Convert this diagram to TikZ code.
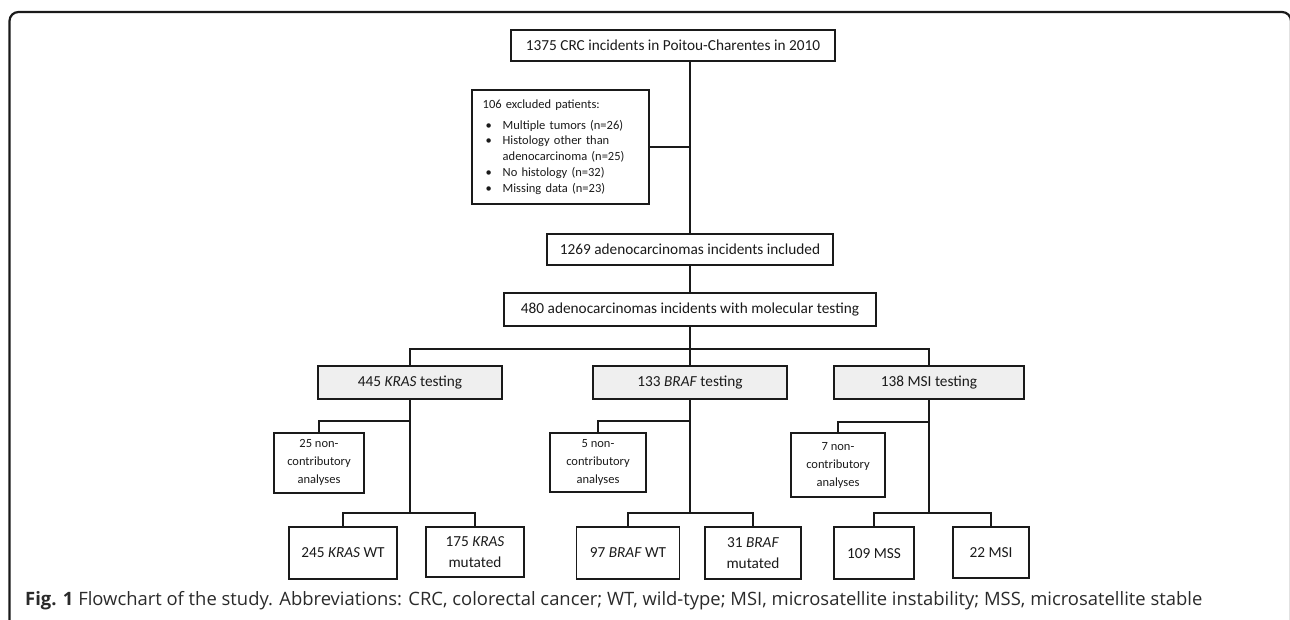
\documentclass[tikz,border=0pt]{standalone}
\usepackage{fontspec}
\setmainfont{Carlito}
\newfontfamily\capfont{Open Sans}
\usepackage{graphicx}
\definecolor{boxgray}{HTML}{EFEFEF}
\definecolor{ink}{HTML}{1A1A1A}
\definecolor{capink}{HTML}{2A2A2A}
\tikzset{
  box/.style={draw=ink, text=ink, line width=1.8pt, inner sep=0pt, align=center,
    font=\fontsize{15.3}{21.7}\selectfont},
  lvlbox/.style={box, fill=boxgray},
  ncbox/.style={box, font=\fontsize{12.5}{18}\selectfont},
  link/.style={draw=ink, line width=1.6pt},
  frameline/.style={draw=ink, line width=2.2pt, rounded corners=9pt},
}
\begin{document}
\begin{tikzpicture}[x=1pt,y=-1pt]
\useasboundingbox (0,0) rectangle (1290,620);
% outer frame
\draw[frameline] (9.5,640) -- (9.5,12) -- (1291,12) -- (1291,640);

% main column
\node[box, minimum width=324, minimum height=31] (top) at (673,45.5)
  {1375 CRC incidents in Poitou-Charentes in 2010};
\node[box, text width=155.6, inner xsep=10.7, minimum height=114, align=left,
  font=\fontsize{12.5}{15.7}\selectfont] (excl) at (560.5,147)
  {106 excluded patients:\\[5pt]
   \hspace*{3pt}\makebox[17pt][l]{\textbullet}Multiple tumors (n=26)\\
   \hspace*{3pt}\makebox[17pt][l]{\textbullet}Histology other than\\
   \hspace*{20pt}adenocarcinoma (n=25)\\
   \hspace*{3pt}\makebox[17pt][l]{\textbullet}No histology (n=32)\\
   \hspace*{3pt}\makebox[17pt][l]{\textbullet}Missing data (n=23)};
\node[box, minimum width=286.6, minimum height=31] (inc) at (690,249.5)
  {1269 adenocarcinomas incidents included};
\node[box, minimum width=372, minimum height=33] (mol) at (690,309.5)
  {480 adenocarcinomas incidents with molecular testing};

% level 2
\node[lvlbox, minimum width=183.4, minimum height=32.7] (kras) at (410,382.3)
  {445 \textit{KRAS} testing};
\node[lvlbox, minimum width=193.3, minimum height=32.7] (braf) at (690,382.3)
  {133 \textit{BRAF} testing};
\node[lvlbox, minimum width=189.3, minimum height=32.7] (msi) at (929,382.3)
  {138 MSI testing};

% non-contributory
\node[ncbox, minimum width=90, minimum height=60] (nck) at (319,462.7)
  {25 non-\\contributory\\analyses};
\node[ncbox, minimum width=96.7, minimum height=59.6] (ncb) at (598,462.5)
  {5 non-\\contributory\\analyses};
\node[ncbox, minimum width=94.6, minimum height=64] (ncm) at (838,465.3)
  {7 non-\\contributory\\analyses};

% results
\node[box, minimum width=108.6, minimum height=51.4] (kwt) at (343,553)
  {245 \textit{KRAS} WT};
\node[box, minimum width=97.7, minimum height=49.7] (kmu) at (475,552.2)
  {175 \textit{KRAS}\\mutated};
\node[box, minimum width=103, minimum height=51.4] (bwt) at (628,553)
  {97 \textit{BRAF} WT};
\node[box, minimum width=96, minimum height=51.4] (bmu) at (753,553)
  {31 \textit{BRAF}\\mutated};
\node[box, minimum width=80, minimum height=52] (mss) at (874,553.3)
  {109 MSS};
\node[box, minimum width=75.7, minimum height=51] (msip) at (991,552.8)
  {22 MSI};

% caption
\node[anchor=base west, inner sep=0pt, text=capink] (cap) at (25,605.5)
  {\resizebox{1177pt}{!}{\capfont\fontsize{13}{15}\selectfont\textbf{Fig. 1} Flowchart of the study. Abbreviations: CRC, colorectal cancer; WT, wild-type; MSI, microsatellite instability; MSS, microsatellite stable}};

% junction coordinates
\coordinate (l2) at (690,349);
\coordinate (ks) at (410,421);
\coordinate (kj) at (410,513);
\coordinate (bs) at (690,421);
\coordinate (bj) at (690,513);
\coordinate (ms) at (929,422);
\coordinate (mj) at (929,513);

% connectors
\draw[link] (top.south -| inc.north) -- (inc.north);
\draw[link] (excl.east) -- (excl.east -| inc.north);
\draw[link] (inc.south -| mol.north) -- (mol.north);
\draw[link] (mol.south) -- (l2);
\draw[link] (kras.north) |- (l2) -| (msi.north);
\draw[link] (l2) -- (braf.north);

\draw[link] (kras.south -| ks) -- (kj);
\draw[link] (ks) -| (nck.north);
\draw[link] (kwt.north) |- (kj) -| (kmu.north);

\draw[link] (braf.south -| bs) -- (bj);
\draw[link] (bs) -| (ncb.north);
\draw[link] (bwt.north) |- (bj) -| (bmu.north);

\draw[link] (msi.south -| ms) -- (mj);
\draw[link] (ms) -| (ncm.north);
\draw[link] (mss.north) |- (mj) -| (msip.north);
\end{tikzpicture}
\end{document}
